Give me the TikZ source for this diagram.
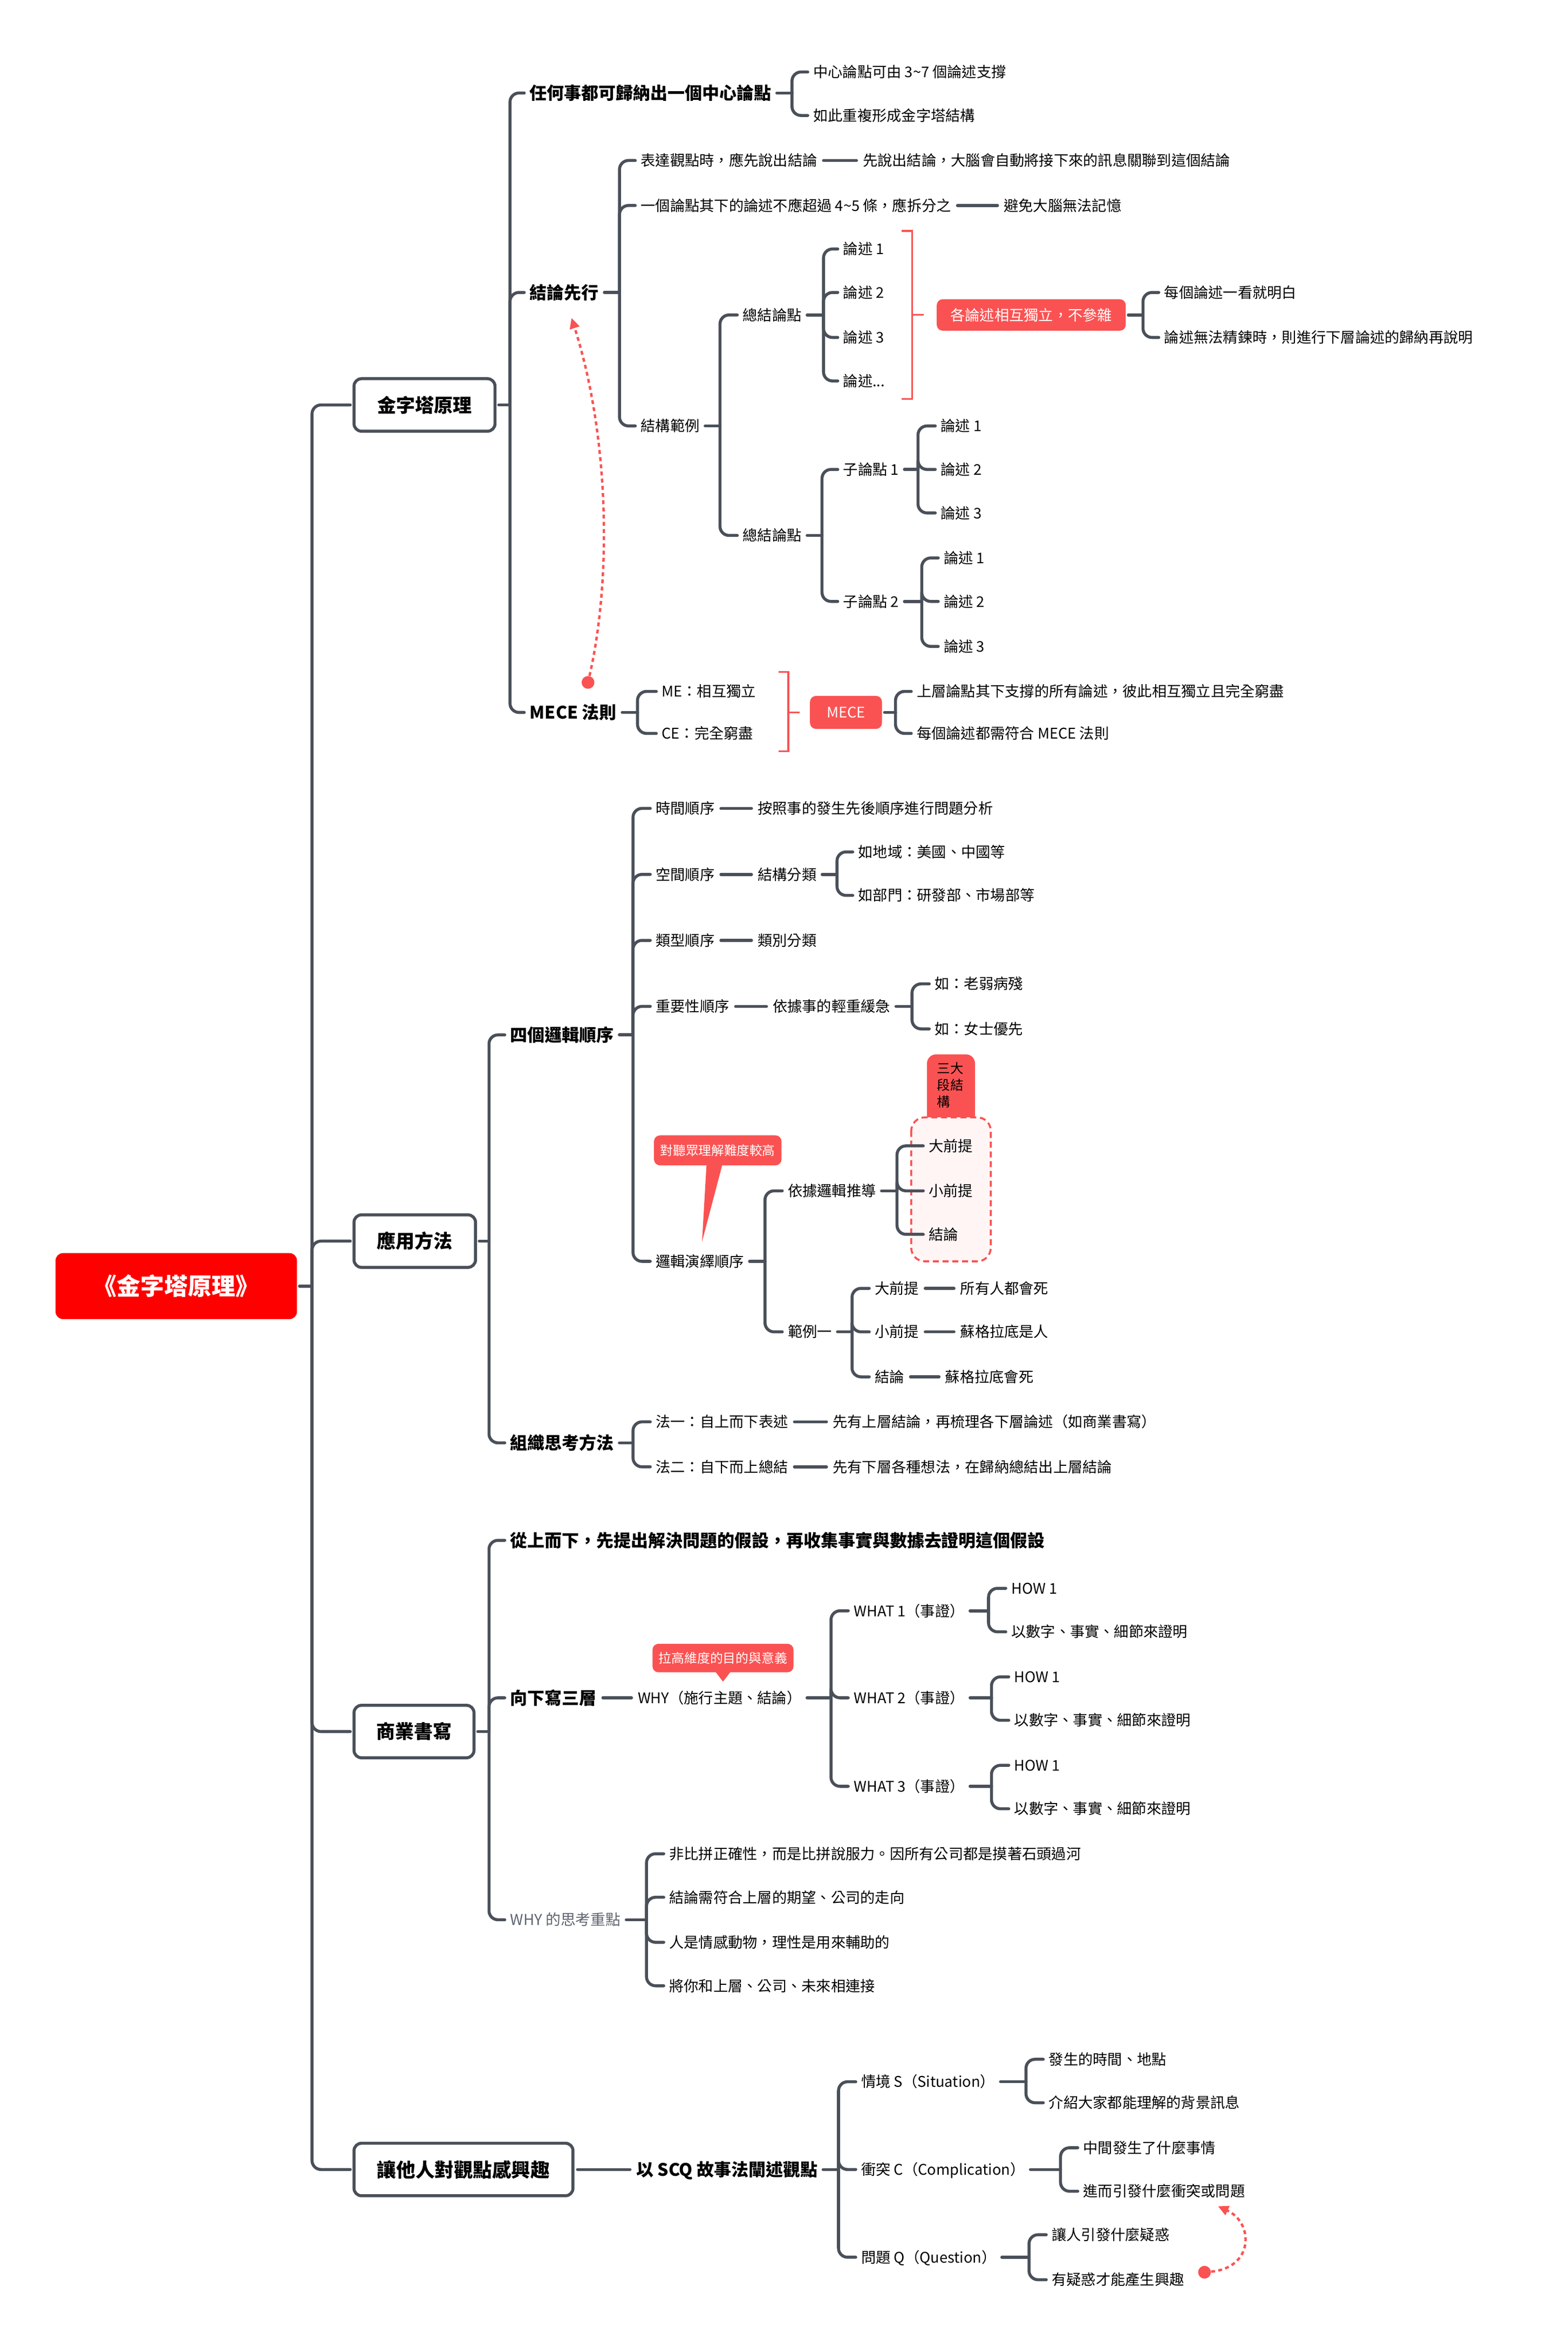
\documentclass[tikz,border=0pt]{standalone}
\usepackage{fontspec}
\setmainfont{Noto Sans CJK TC}
\usetikzlibrary{arrows.meta}
\definecolor{lc}{HTML}{4A5059}
\definecolor{rc}{HTML}{FA5252}
\definecolor{rootc}{HTML}{FF0000}
\definecolor{pk}{HTML}{FFF5F5}
\definecolor{gc}{HTML}{5F6670}
\newcommand{\fz}[1]{\fontsize{#1pt}{#1pt}\selectfont}
\newcommand{\tfork}[3]{%
  \coordinate (fv) at (#2,0);
  \coordinate (fj) at (#1.east -| fv);
  \draw[ln, shorten <=1.5pt] (#1.east) -- (fj);
  \foreach \ch in {#3}{\draw[ln, rounded corners=6pt, shorten >=1.5pt] (fj) |- (\ch.west);}%
}
\newcommand{\tline}[2]{\draw[ln, shorten <=2pt, shorten >=2pt] (#1.east) -- (#2.west);}
\begin{document}
\begin{tikzpicture}[x=1pt,y=-1pt,
  ln/.style={draw=lc, line width=2pt, line cap=round},
  tx/.style={anchor=west, inner xsep=2pt, inner ysep=0pt, text height=8.6pt, text depth=1.2pt, font=\fz{9.8}},
  bx/.style={anchor=west, inner xsep=2pt, inner ysep=0pt, text height=10.1pt, text depth=1.4pt, font=\fz{11.5}\bfseries},
  gx/.style={anchor=west, inner xsep=2pt, inner ysep=0pt, text height=8.8pt, text depth=1.2pt, font=\fz{10}, text=gc},
  lbox/.style={draw=lc, line width=2pt, fill=white, rounded corners=5pt, minimum height=35pt, inner sep=0pt, font=\fz{12.6}\bfseries},
  rbox/.style={fill=rc, rounded corners=4pt, text=white, inner sep=0pt, font=\fz{9.8}},
  root/.style={fill=rootc, rounded corners=5pt, text=white, minimum width=161pt, minimum height=44pt, inner sep=0pt, font=\fz{15.8}\bfseries},
  rb/.style={draw=rc, line width=1.2pt},
  dot/.style={circle, fill=rc, minimum size=8.5pt, inner sep=0pt},
  rarrow/.style={draw=rc, line width=1.6pt, dash pattern=on 2.6pt off 2.2pt, -{Triangle[length=7pt,width=6.5pt]}}
]
\fill[white] (0,0) rectangle (1045.3,1566.2);
\useasboundingbox (0,0) rectangle (1045.3,1566.2);

% backgrounds
\fill[rc, rounded corners=6pt] (618,703) rectangle (650,753);
\draw[draw=rc, line width=1.3pt, dash pattern=on 4pt off 2.5pt, fill=pk, rounded corners=9pt] (607.5,745) rectangle (660.5,841);
\node[anchor=north west, align=left, inner sep=0pt, font=\fontsize{8.8pt}{11.2pt}\selectfont] (sd) at (624.5,708) {三大\\段結\\構};

% root and level 1
\node[root] (root) at (117.5,857.5) {《金字塔原理》};
\node[lbox, minimum width=94pt] (k1) at (283,270) {金字塔原理};
\node[lbox, minimum width=81pt] (k2) at (276.5,827.5) {應用方法};
\node[lbox, minimum width=80pt] (k3) at (276,1154.5) {商業書寫};
\node[lbox, minimum width=146pt, font=\fz{12.8}\bfseries] (k4) at (309,1446.5) {讓他人對觀點感興趣};

% 金字塔原理
\node[bx] (a1) at (351,62) {任何事都可歸納出一個中心論點};
\node[bx] (a2) at (351,195) {結論先行};
\node[bx] (a3) at (351,475) {MECE 法則};
\node[tx] (a11) at (540,48) {中心論點可由 3{\char"7E}7 個論述支撐};
\node[tx] (a12) at (540,77) {如此重複形成金字塔結構};
\node[tx] (a21) at (425,107) {表達觀點時，應先說出結論};
\node[tx] (a211) at (573,107) {先說出結論，大腦會自動將接下來的訊息關聯到這個結論};
\node[tx] (a22) at (425,137) {一個論點其下的論述不應超過 4{\char"7E}5 條，應拆分之};
\node[tx] (a221) at (667,137) {避免大腦無法記憶};
\node[tx] (a23) at (425,284) {結構範例};
\node[tx] (b1) at (493,210) {總結論點};
\node[tx] (b2) at (493,357) {總結論點};
\node[tx] (b11) at (560,166) {論述 1};
\node[tx] (b12) at (560,195) {論述 2};
\node[tx] (b13) at (560,225) {論述 3};
\node[tx] (b14) at (560,254) {論述...};
\node[rbox, minimum width=126pt, minimum height=21pt] (r1) at (687.5,210) {各論述相互獨立，不參雜};
\node[tx] (r11) at (774,195) {每個論述一看就明白};
\node[tx] (r12) at (774,225) {論述無法精鍊時，則進行下層論述的歸納再說明};
\node[tx] (c1) at (560,313) {子論點 1};
\node[tx] (c2) at (560,401) {子論點 2};
\node[tx] (c11) at (625,284) {論述 1};
\node[tx] (c12) at (625,313) {論述 2};
\node[tx] (c13) at (625,342) {論述 3};
\node[tx] (c21) at (627,372) {論述 1};
\node[tx] (c22) at (627,401) {論述 2};
\node[tx] (c23) at (627,431) {論述 3};
\node[tx] (m1) at (439,461) {ME：相互獨立};
\node[tx] (m2) at (439,489) {CE：完全窮盡};
\node[rbox, minimum width=48pt, minimum height=22pt] (mc) at (564,475) {MECE};
\node[tx] (m3) at (609,461) {上層論點其下支撐的所有論述，彼此相互獨立且完全窮盡};
\node[tx] (m4) at (609,489) {每個論述都需符合 MECE 法則};

% 應用方法
\node[bx] (d1) at (338,690) {四個邏輯順序};
\node[bx] (d2) at (338,962) {組織思考方法};
\node[tx] (e1) at (435,539) {時間順序};
\node[tx] (e11) at (503,539) {按照事的發生先後順序進行問題分析};
\node[tx] (e2) at (435,583) {空間順序};
\node[tx] (e21) at (503,583) {結構分類};
\node[tx] (e211) at (570,568) {如地域：美國、中國等};
\node[tx] (e212) at (570,597) {如部門：研發部、市場部等};
\node[tx] (e3) at (435,627) {類型順序};
\node[tx] (e31) at (503,627) {類別分類};
\node[tx] (e4) at (435,671) {重要性順序};
\node[tx] (e41) at (513,671) {依據事的輕重緩急};
\node[tx] (e411) at (621,656) {如：老弱病殘};
\node[tx] (e412) at (621,686) {如：女士優先};
\node[tx] (e5) at (435,841) {邏輯演繹順序};
\node[tx] (f1) at (523,794) {依據邏輯推導};
\node[tx] (f2) at (523,888) {範例一};
\node[tx] (f11) at (617,764) {大前提};
\node[tx] (f12) at (617,794) {小前提};
\node[tx] (f13) at (617,823) {結論};
\node[tx] (g1) at (581,859) {大前提};
\node[tx] (g2) at (581,888) {小前提};
\node[tx] (g3) at (581,918) {結論};
\node[tx] (g11) at (638,859) {所有人都會死};
\node[tx] (g21) at (638,888) {蘇格拉底是人};
\node[tx] (g31) at (628,918) {蘇格拉底會死};
\node[tx] (h1) at (435,948) {法一：自上而下表述};
\node[tx] (h11) at (553,948) {先有上層結論，再梳理各下層論述（如商業書寫）};
\node[tx] (h2) at (435,978) {法二：自下而上總結};
\node[tx] (h21) at (553,978) {先有下層各種想法，在歸納總結出上層結論};
\node[rbox, minimum width=85pt, minimum height=20pt, font=\fz{8.5}] (q1) at (478.5,767) {對聽眾理解難度較高};
\fill[rc] ([xshift=-7.5pt,yshift=0.5pt]q1.south) -- (468,828) -- ([xshift=3pt,yshift=0.5pt]q1.south) -- cycle;

% 商業書寫
\node[bx] (i1) at (338,1027) {從上而下，先提出解決問題的假設，再收集事實與數據去證明這個假設};
\node[bx] (i2) at (338,1132) {向下寫三層};
\node[gx] (i3) at (338,1280) {WHY 的思考重點};
\node[tx] (i21) at (423,1132) {WHY（施行主題、結論）};
\node[tx] (w1) at (567,1074) {WHAT 1（事證）};
\node[tx] (w2) at (567,1132) {WHAT 2（事證）};
\node[tx] (w3) at (567,1191) {WHAT 3（事證）};
\node[tx] (w11) at (672,1059) {HOW 1};
\node[tx] (w12) at (672,1088) {以數字、事實、細節來證明};
\node[tx] (w21) at (674,1118) {HOW 1};
\node[tx] (w22) at (674,1147) {以數字、事實、細節來證明};
\node[tx] (w31) at (674,1177) {HOW 1};
\node[tx] (w32) at (674,1206) {以數字、事實、細節來證明};
\node[tx] (v1) at (444,1236) {非比拼正確性，而是比拼說服力。因所有公司都是摸著石頭過河};
\node[tx] (v2) at (444,1265) {結論需符合上層的期望、公司的走向};
\node[tx] (v3) at (444,1295) {人是情感動物，理性是用來輔助的};
\node[tx] (v4) at (444,1324) {將你和上層、公司、未來相連接};
\node[rbox, minimum width=94pt, minimum height=19pt, font=\fz{8.6}] (q2) at (482,1105.5) {拉高維度的目的與意義};
\fill[rc] ([xshift=-5pt,yshift=0.5pt]q2.south) -- ([yshift=-6pt]q2.south) -- ([xshift=5pt,yshift=0.5pt]q2.south) -- cycle;

% 讓他人對觀點感興趣
\node[bx] (s0) at (422,1446.5) {以 SCQ 故事法闡述觀點};
\node[tx] (s1) at (572,1388) {情境 S（Situation）};
\node[tx] (s2) at (572,1446.5) {衝突 C（Complication）};
\node[tx] (s3) at (572,1505) {問題 Q（Question）};
\node[tx] (s11) at (697,1373) {發生的時間、地點};
\node[tx] (s12) at (697,1402) {介紹大家都能理解的背景訊息};
\node[tx] (s21) at (720,1432) {中間發生了什麼事情};
\node[tx] (s22) at (720,1461) {進而引發什麼衝突或問題};
\node[tx] (s31) at (699,1490) {讓人引發什麼疑惑};
\node[tx] (s32) at (699,1520) {有疑惑才能產生興趣};

% connectors
\tfork{root}{208}{k1,k2,k3,k4}
\tfork{k1}{340}{a1,a2,a3}
\tfork{a1}{528}{a11,a12}
\tfork{a2}{413}{a21,a22,a23}
\tline{a21}{a211}
\tline{a22}{a221}
\tfork{a23}{480}{b1,b2}
\tfork{b1}{549}{b11,b12,b13,b14}
\tfork{r1}{762}{r11,r12}
\tfork{b2}{548}{c1,c2}
\tfork{c1}{612}{c11,c12,c13}
\tfork{c2}{614.5}{c21,c22,c23}
\tfork{a3}{425}{m1,m2}
\tfork{mc}{597}{m3,m4}
\tfork{k2}{326}{d1,d2}
\tfork{d1}{422}{e1,e2,e3,e4,e5}
\tline{e1}{e11}
\tline{e2}{e21}
\tfork{e21}{558}{e211,e212}
\tline{e3}{e31}
\tline{e4}{e41}
\tfork{e41}{608}{e411,e412}
\tfork{e5}{510}{f1,f2}
\tfork{f1}{598}{f11,f12,f13}
\tfork{f2}{568}{g1,g2,g3}
\tline{g1}{g11}
\tline{g2}{g21}
\tline{g3}{g31}
\tfork{d2}{422}{h1,h2}
\tline{h1}{h11}
\tline{h2}{h21}
\tfork{k3}{326}{i1,i2,i3}
\tline{i2}{i21}
\tfork{i21}{554}{w1,w2,w3}
\tfork{w1}{659}{w11,w12}
\tfork{w2}{661}{w21,w22}
\tfork{w3}{661}{w31,w32}
\tfork{i3}{431}{v1,v2,v3,v4}
\tline{k4}{s0}
\tfork{s0}{559}{s1,s2,s3}
\tfork{s1}{684}{s11,s12}
\tfork{s2}{707}{s21,s22}
\tfork{s3}{686}{s31,s32}

% red brackets
\draw[rb] (601,154) -- (608,154) -- (608,266) -- (601,266);
\draw[rb] (608,210) -- (616,210);
\draw[rb] (519,448) -- (525.5,448) -- (525.5,501) -- (519,501);
\draw[rb] (525.5,475) -- (533,475);

% red dashed arrows
\node[dot] (dt1) at (392,455) {};
\coordinate (tip1) at (381,212);
\draw[rarrow] (dt1) .. controls (408,385) and (406,290) .. (tip1);
\node[dot] (dt2) at (803,1515) {};
\coordinate (tip2) at (812,1471);
\draw[rarrow] (dt2) .. controls (836,1512) and (836,1482) .. (tip2);
\end{tikzpicture}
\end{document}
